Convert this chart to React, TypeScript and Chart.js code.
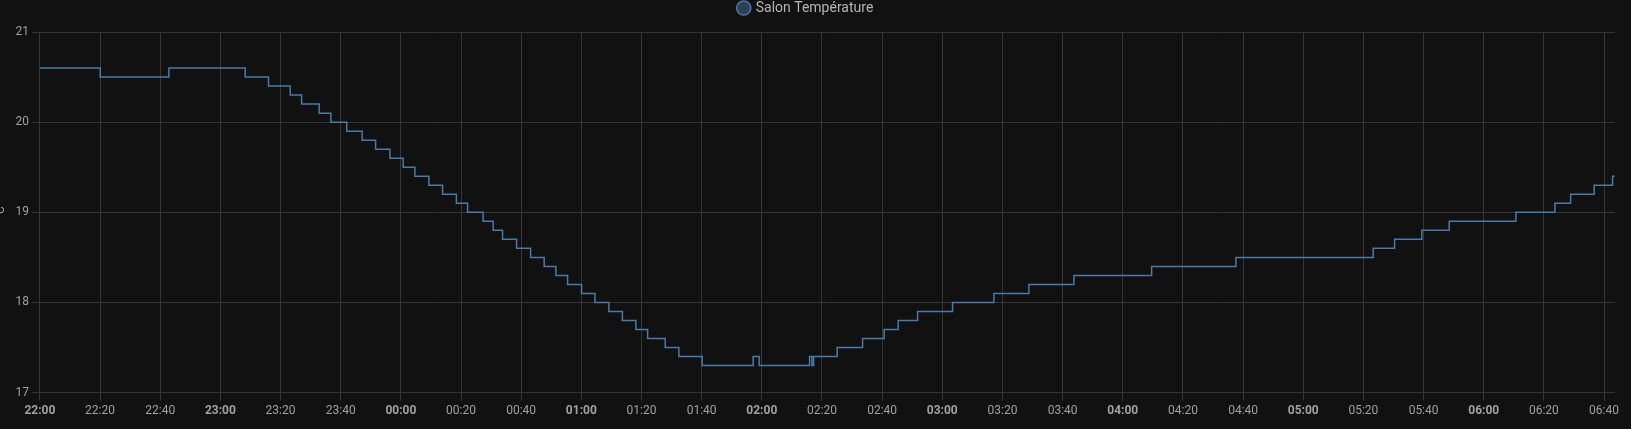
import React, { useEffect, useRef } from 'react';
import { Chart, registerables } from 'chart.js';

Chart.register(...registerables);

const seriesLabel = 'Salon Température';
const yTitle = '°C';

const changeTimes = [
  '22:00:00', '22:20:03', '22:42:53', '23:08:15', '23:16:00', '23:23:13', '23:27:00', '23:32:51',
  '23:36:44', '23:42:00', '23:47:09', '23:51:36', '23:56:22', '00:00:47', '00:04:40', '00:09:19',
  '00:13:53', '00:18:28', '00:22:11', '00:27:22', '00:30:42', '00:33:49', '00:38:29', '00:43:08',
  '00:47:39', '00:51:32', '00:55:26', '01:00:05', '01:04:31', '01:09:10', '01:13:39', '01:18:08',
  '01:22:02', '01:27:53', '01:32:26', '01:40:11', '01:57:08', '01:59:08', '02:15:53', '02:16:39',
  '02:17:13', '02:25:04', '02:33:30', '02:40:41', '02:45:20', '02:51:47', '03:03:25', '03:17:09',
  '03:28:47', '03:43:45', '04:09:35', '04:37:37', '05:23:15', '05:30:22', '05:39:26', '05:48:31',
  '06:10:41', '06:23:40', '06:28:53', '06:36:43', '06:42:50', '06:43:36',
];

const temperatures = [
  20.6, 20.5, 20.6, 20.5, 20.4, 20.3, 20.2, 20.1,
  20.0, 19.9, 19.8, 19.7, 19.6, 19.5, 19.4, 19.3,
  19.2, 19.1, 19.0, 18.9, 18.8, 18.7, 18.6, 18.5,
  18.4, 18.3, 18.2, 18.1, 18.0, 17.9, 17.8, 17.7,
  17.6, 17.5, 17.4, 17.3, 17.4, 17.3, 17.4, 17.3,
  17.4, 17.5, 17.6, 17.7, 17.8, 17.9, 18.0, 18.1,
  18.2, 18.3, 18.4, 18.5, 18.6, 18.7, 18.8, 18.9,
  19.0, 19.1, 19.2, 19.3, 19.4, 19.4,
];

const rangeStart = '22:00:00';
const rangeEnd = '06:43:36';

const xTickLabels = [
  '22:00', '22:20', '22:40', '23:00', '23:20', '23:40', '00:00', '00:20', '00:40',
  '01:00', '01:20', '01:40', '02:00', '02:20', '02:40', '03:00', '03:20', '03:40',
  '04:00', '04:20', '04:40', '05:00', '05:20', '05:40', '06:00', '06:20', '06:40',
];

const yMin = 17;
const yMax = 21;
const yStep = 1;

function toMinutes(t: string): number {
  const parts = t.split(':').map(Number);
  let h = parts[0];
  if (h < 12) h += 24;
  return (h - 22) * 60 + parts[1] + (parts[2] || 0) / 60;
}

const legendSpacer = {
  id: 'legendSpacer',
  beforeInit(chart: any) {
    const legend = chart.legend;
    if (!legend) return;
    const origFit = legend.fit;
    legend.fit = function () {
      origFit.call(this);
      this.height += 7;
    };
  },
};

export default function App() {
  const canvasRef = useRef<HTMLCanvasElement | null>(null);

  useEffect(() => {
    if (!canvasRef.current) return;
    const gridColor = '#353535';
    const tickColor = '#a0a0a0';
    const points = changeTimes.map((t, i) => ({ x: toMinutes(t), y: temperatures[i] }));
    const chart = new Chart(canvasRef.current, {
      type: 'line',
      data: {
        datasets: [
          {
            label: seriesLabel,
            data: points,
            borderColor: '#4b7aa7',
            backgroundColor: 'rgba(68,115,158,0.5)',
            borderWidth: 1.5,
            pointRadius: 0,
            stepped: 'before',
            fill: false,
            tension: 0,
          },
        ],
      },
      options: {
        animation: false,
        responsive: true,
        maintainAspectRatio: false,
        layout: { padding: 0 },
        plugins: {
          legend: {
            display: true,
            position: 'top',
            labels: {
              usePointStyle: true,
              pointStyle: 'circle',
              boxWidth: 10,
              boxHeight: 10,
              padding: 1,
              color: '#b4b4b4',
              font: { family: 'Roboto', size: 14 },
            },
          },
          tooltip: { enabled: false },
        },
        scales: {
          x: {
            type: 'linear',
            min: toMinutes(rangeStart),
            max: toMinutes(rangeEnd),
            afterBuildTicks: (scale: any) => {
              scale.ticks = xTickLabels.map((l) => ({ value: toMinutes(l) }));
            },
            ticks: {
              color: tickColor,
              maxRotation: 0,
              autoSkip: false,
              padding: 3,
              callback: (_v: any, index: number) => xTickLabels[index],
              font: (ctx: any) => ({
                family: 'Roboto',
                size: 12,
                weight: xTickLabels[ctx.index] && xTickLabels[ctx.index].endsWith(':00') ? 'bold' : 'normal',
              }),
            },
            grid: { color: gridColor, tickLength: 8 },
            border: { color: gridColor },
          },
          y: {
            type: 'linear',
            min: yMin,
            max: yMax,
            ticks: {
              stepSize: yStep,
              color: tickColor,
              padding: 3,
              font: { family: 'Roboto', size: 12 },
            },
            title: {
              display: true,
              text: yTitle,
              color: tickColor,
              font: { family: 'Roboto', size: 12 },
            },
            grid: { color: gridColor, tickLength: 8 },
            border: { color: gridColor },
          },
        },
      },
      plugins: [legendSpacer],
    } as any);
    return () => chart.destroy();
  }, []);

  return (
    <div
      style={{
        position: 'fixed',
        left: 0,
        top: 0,
        width: 1631,
        height: 429,
        background: '#111111',
        overflow: 'hidden',
      }}
    >
      <div style={{ position: 'absolute', left: -10, top: 0, width: 1632, height: 421 }}>
        <canvas ref={canvasRef} />
      </div>
    </div>
  );
}
